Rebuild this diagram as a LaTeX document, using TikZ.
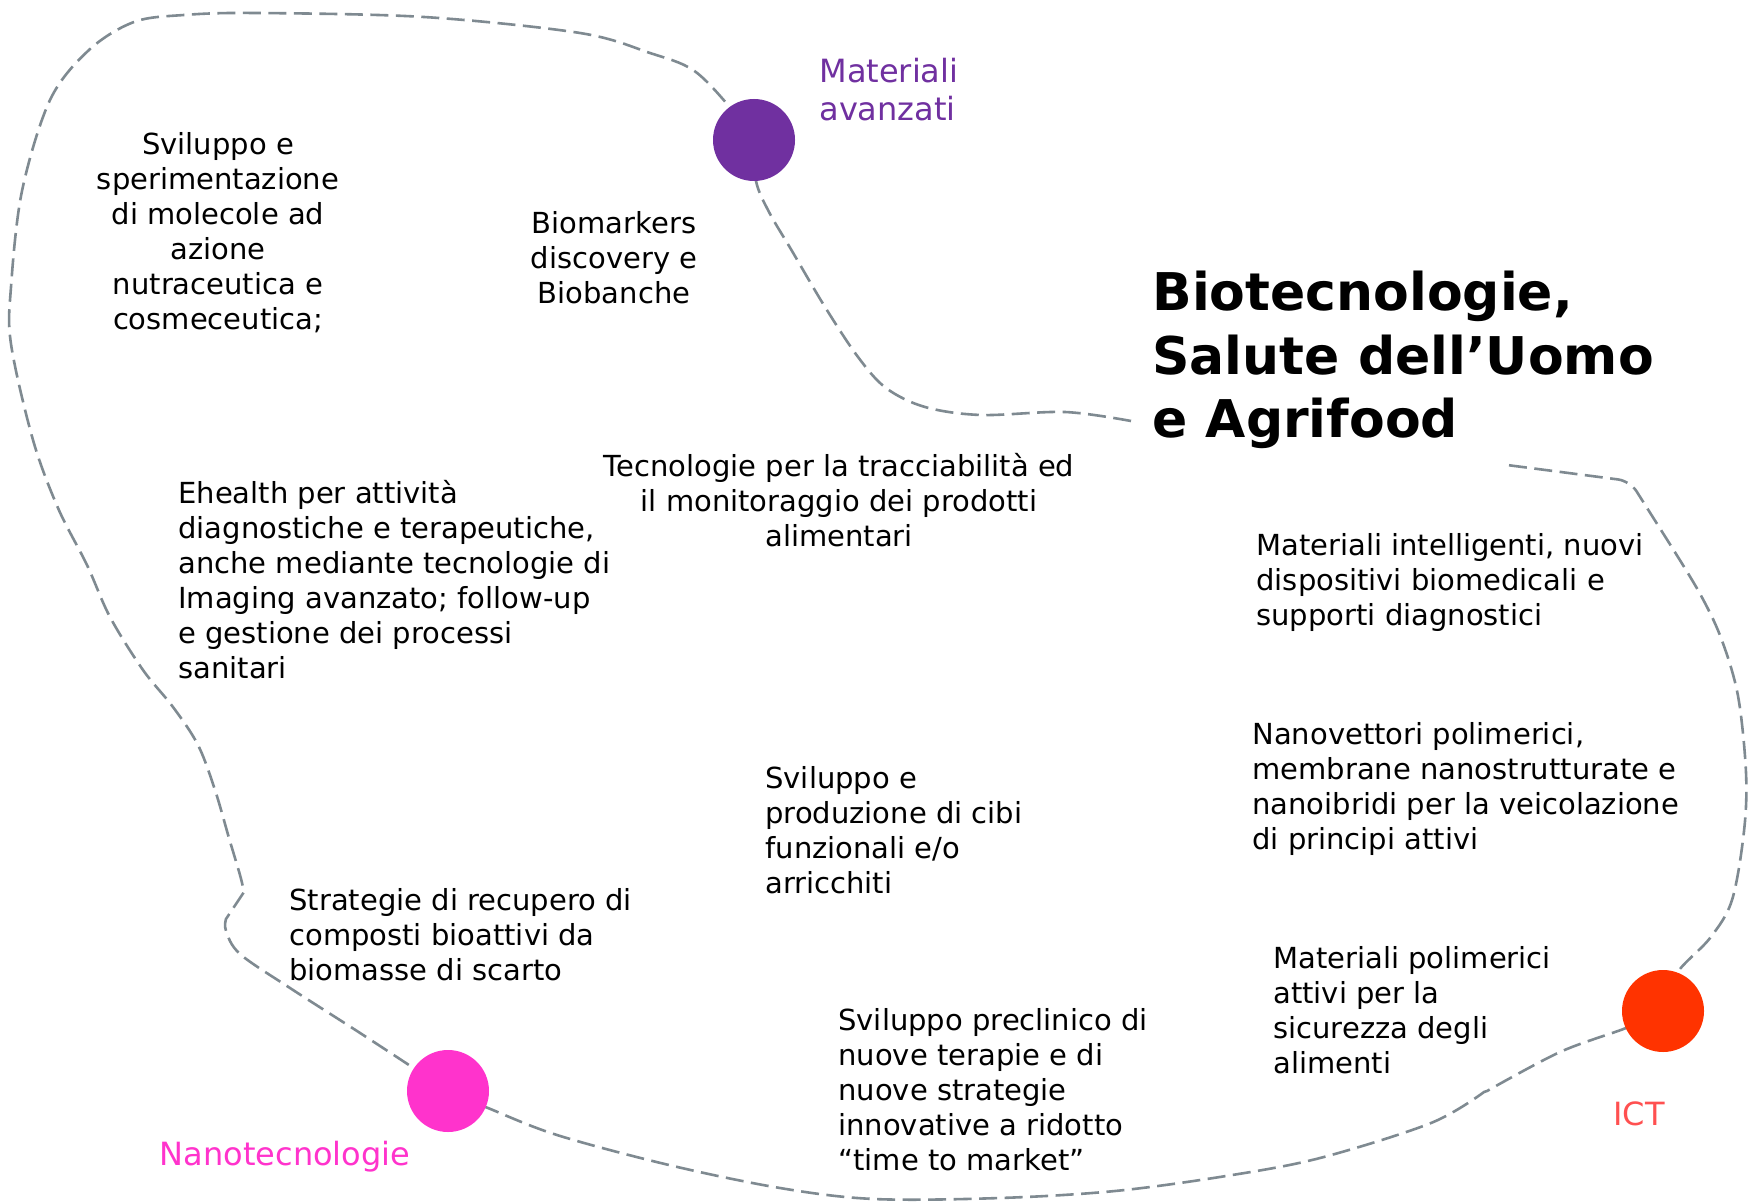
\documentclass[tikz,border=0pt]{standalone}
\usepackage{fontspec}
\setmainfont{DejaVu Sans}
\definecolor{matpurple}{HTML}{7030A0}
\definecolor{nanopink}{HTML}{FF33CC}
\definecolor{ictred}{HTML}{FF3300}
\definecolor{ictlabel}{HTML}{FF5050}
\definecolor{loopgray}{RGB}{127,138,145}
\begin{document}
\begin{tikzpicture}[x=0.5pt,y=-0.5pt,
  loopline/.style={draw=loopgray, line width=1.3pt, dash pattern=on 9pt off 3.75pt},
  dot/.style={circle, minimum size=41pt, inner sep=0pt},
  body/.style={font=\fontsize{14.5}{17.5}\selectfont, inner sep=0pt, text=black},
  toplabel/.style={font=\fontsize{16}{19}\selectfont, inner sep=0pt},
  titletext/.style={font=\fontsize{26}{31.75}\selectfont\bfseries, inner sep=0pt, align=left}]
\useasboundingbox (0,0) rectangle (1748,1203);
\fill[white] (0,0) rectangle (1748,1203);

% dashed loop
\draw[loopline] plot[smooth, tension=0.55] coordinates {(1131,421) (1065,412) (981,415) (925,407) (886,388) (858,357) (825,307) (792,251) (769,212) (756,181) (754,140) (728,105) (693,70) (650,53) (580,33) (424,17) (256,13) (184,15) (134,22) (89,50) (50,100) (22,191) (11,287) (11,344) (33,440) (58,508) (87,565) (110,617) (143,670) (173,707) (198,745) (215,790) (229,838) (240,875) (244,892)}
 -- plot[smooth, tension=0.55] coordinates {(226,919) (226,931) (240,954) (290,988) (357,1031) (412,1067) (448,1091) (488,1108) (557,1135) (669,1165) (780,1188) (874,1199) (1000,1198) (1115,1191) (1226,1176) (1320,1158) (1431,1123) (1484,1092)}
 -- plot[smooth, tension=0.55] coordinates {(1487,1091) (1560,1052) (1626,1028) (1663,1011) (1677,973) (1710,938) (1732,900) (1744,831) (1746,773) (1738,696) (1721,638) (1699,592) (1666,538)}
 [rounded corners=6pt] -- (1630,481) -- (1507,465);

% circles
\node[dot, fill=matpurple] (mat) at (754,140) {};
\node[dot, fill=nanopink] (nano) at (448,1091) {};
\node[dot, fill=ictred] (ict) at (1663,1011) {};

% circle labels
\node[toplabel, text=matpurple, anchor=north west, align=left] (matlab) at (819,58) {Materiali\\avanzati};
\node[toplabel, text=nanopink] (nanolab) at (285,1157) {Nanotecnologie};
\node[toplabel, text=ictlabel] (ictlab) at (1639,1114) {ICT};

% title
\node[titletext, anchor=north west] (title) at (1152,271) {Biotecnologie,\\Salute dell’Uomo\\e Agrifood};

% body texts
\node[body, align=center, anchor=north] (t1) at (218,132) {Sviluppo e\\sperimentazione\\di molecole ad\\azione\\nutraceutica e\\cosmeceutica;};
\node[body, align=center, anchor=north] (t2) at (614,211) {Biomarkers\\discovery e\\Biobanche};
\node[body, align=center, anchor=north] (t3) at (839,453) {Tecnologie per la tracciabilità ed\\il monitoraggio dei prodotti\\alimentari};
\node[body, align=left, anchor=north west] (t4) at (178,480) {Ehealth per attività\\diagnostiche e terapeutiche,\\anche mediante tecnologie di\\Imaging avanzato; follow-up\\e gestione dei processi\\sanitari};
\node[body, align=left, anchor=north west] (t5) at (1256,533) {Materiali intelligenti, nuovi\\dispositivi biomedicali e\\supporti diagnostici};
\node[body, align=left, anchor=north west] (t6) at (1252,722) {Nanovettori polimerici,\\membrane nanostrutturate e\\nanoibridi per la veicolazione\\di principi attivi};
\node[body, align=left, anchor=north west] (t7) at (765,766) {Sviluppo e\\produzione di cibi\\funzionali e/o\\arricchiti};
\node[body, align=left, anchor=north west] (t8) at (289,888) {Strategie di recupero di\\composti bioattivi da\\biomasse di scarto};
\node[body, align=left, anchor=north west] (t9) at (1273,946) {Materiali polimerici\\attivi per la\\sicurezza degli\\alimenti};
\node[body, align=left, anchor=north west] (t10) at (838,1008) {Sviluppo preclinico di\\nuove terapie e di\\nuove strategie\\innovative a ridotto\\“time to market”};
\end{tikzpicture}
\end{document}
